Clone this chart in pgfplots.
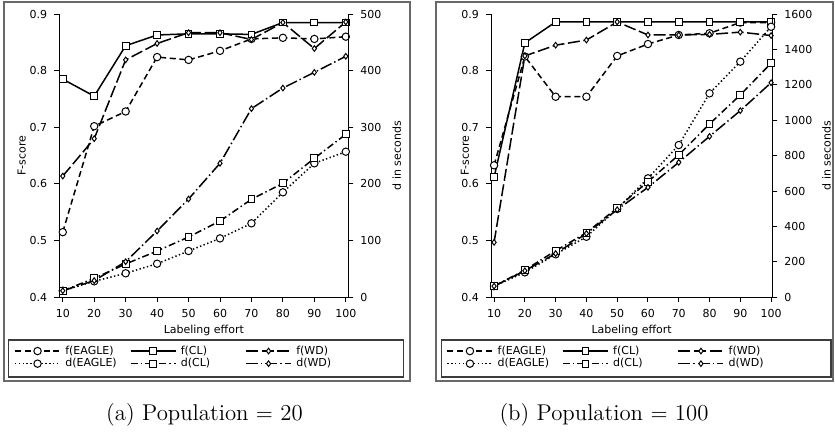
\documentclass[border=0pt]{standalone}
\usepackage{fontspec}
\usepackage{pgfplots}
\pgfplotsset{compat=1.18}
\newfontfamily\dv{DejaVu Sans}
\newcommand\smallfont{\dv\fontsize{5.5}{6.6}\selectfont}
\definecolor{framegray}{RGB}{105,105,105}
\definecolor{boxgray}{RGB}{60,60,60}

\pgfplotsset{
  common/.style={
    scale only axis, anchor=south west, height=141.65pt,
    font=\smallfont, tick label style={font=\smallfont},
    /pgf/number format/assume math mode=true,
    /pgf/number format/1000 sep={},
    tick align=outside, major tick length=2.5pt,
    every tick/.style={black, line width=0.5pt},
    axis line style={-, line width=0.5pt},
    xtick={10,20,30,40,50,60,70,80,90,100}, clip=false,
    every axis plot/.append style={line width=0.75pt, black},
    legend image code/.code={
      \draw[mark repeat=2,mark phase=2] plot coordinates {(0pt,0pt) (11.25pt,0pt) (22.5pt,0pt)};},
  },
  fpanel/.style={common,
    axis x line*=bottom, axis y line*=left,
    ymin=0.4, ymax=0.9, ytick={0.4,0.5,0.6,0.7,0.8,0.9},
    yticklabel style={/pgf/number format/.cd, fixed, fixed zerofill, precision=1},
    xlabel={Labeling effort}, ylabel={F-score},
    every axis x label/.style={at={(axis description cs:0.5,-0.118)}, anchor=center},
  },
  dpanel/.style={common,
    axis x line=none, axis y line*=right, ymin=0,
    ylabel={d in seconds},
    legend columns=3, legend cell align=left,
    legend style={anchor=north west, draw=none, fill=none, inner sep=0pt, outer sep=0pt,
      row sep=0pt, font=\smallfont,
      nodes={inner xsep=0pt, inner ysep=0.6pt, text height=4.2pt, text depth=0.9pt},
      /tikz/every odd column/.append style={column sep=2.25pt}},
  },
  sfE/.style={dash pattern=on 3pt off 1.8pt, mark=*, mark size=1.85pt, mark options={solid, fill=white, line width=0.5pt}},
  sfCL/.style={solid, mark=square*, mark size=1.7pt, mark options={solid, fill=white, line width=0.5pt}},
  sfWD/.style={dash pattern=on 6pt off 1.8pt, mark=diamond*, mark size=1.4pt, mark options={solid, fill=white, line width=0.5pt}},
  sdE/.style={dash pattern=on 0.7pt off 1.2pt, mark=*, mark size=1.85pt, mark options={solid, fill=white, line width=0.5pt}},
  sdCL/.style={dash pattern=on 3.5pt off 1.5pt on 0.7pt off 1.5pt, mark=square*, mark size=1.7pt, mark options={solid, fill=white, line width=0.5pt}},
  sdWD/.style={dash pattern=on 6pt off 1.5pt on 0.7pt off 1.5pt, mark=diamond*, mark size=1.4pt, mark options={solid, fill=white, line width=0.5pt}},
}

\begin{document}
\begin{tikzpicture}
\useasboundingbox (0,0) rectangle (417.5pt,218pt);

% ---------- (a) Population = 20 ----------
\begin{axis}[fpanel, at={(29.65pt,69.35pt)}, width=144.5pt, xmin=8.9, xmax=100.8,
  every axis y label/.style={at={(axis description cs:-0.130,0.5)}, rotate=90, anchor=center}]
\addplot[sfE] coordinates {(10,0.515) (20,0.702) (30,0.728) (40,0.824) (50,0.819) (60,0.835) (70,0.856) (80,0.858) (90,0.856) (100,0.860)};
\addplot[sfCL] coordinates {(10,0.785) (20,0.755) (30,0.844) (40,0.863) (50,0.865) (60,0.865) (70,0.864) (80,0.885) (90,0.885) (100,0.885)};
\addplot[sfWD] coordinates {(10,0.614) (20,0.680) (30,0.819) (40,0.848) (50,0.867) (60,0.867) (70,0.855) (80,0.885) (90,0.839) (100,0.886)};
\end{axis}
\begin{axis}[dpanel, at={(29.65pt,69.35pt)}, width=144.5pt, xmin=8.9, xmax=100.8,
  ymax=500, ytick={0,100,200,300,400,500},
  every axis y label/.style={at={(axis description cs:1.1675,0.5)}, rotate=90, anchor=center},
  legend style={at={(axis description cs:-0.1557,-0.1675)}}]
\addlegendimage{sfE}\addlegendentry{\makebox[32.25pt][l]{f(EAGLE)}}
\addlegendimage{sfCL}\addlegendentry{\makebox[32.25pt][l]{f(CL)}}
\addlegendimage{sfWD}\addlegendentry{\makebox[32pt][l]{f(WD)}}
\addplot[sdE] coordinates {(10,11.6) (20,28.2) (30,42.4) (40,59.3) (50,81.7) (60,104) (70,130.6) (80,185.3) (90,236.5) (100,257)};
\addlegendentry{\makebox[32.25pt][l]{d(EAGLE)}}
\addplot[sdCL] coordinates {(10,11.6) (20,33.5) (30,58.8) (40,81.7) (50,106.4) (60,134.7) (70,173) (80,201.2) (90,245.3) (100,287.7)};
\addlegendentry{\makebox[32.25pt][l]{d(CL)}}
\addplot[sdWD] coordinates {(10,11.6) (20,29.5) (30,62.8) (40,117) (50,173.5) (60,236.5) (70,333) (80,369.4) (90,397) (100,425.4)};
\addlegendentry{\makebox[32pt][l]{d(WD)}}
\end{axis}

% ---------- (b) Population = 100 ----------
\begin{axis}[fpanel, at={(245.5pt,69.35pt)}, width=140.65pt, xmin=9, xmax=100.4,
  every axis y label/.style={at={(axis description cs:-0.0924,0.5)}, rotate=90, anchor=center}]
\addplot[sfE] coordinates {(10,0.633) (20,0.825) (30,0.754) (40,0.754) (50,0.826) (60,0.847) (70,0.863) (80,0.866) (90,0.885) (100,0.885)};
\addplot[sfCL] coordinates {(10,0.612) (20,0.849) (30,0.886) (40,0.886) (50,0.886) (60,0.886) (70,0.886) (80,0.886) (90,0.886) (100,0.886)};
\addplot[sfWD] coordinates {(10,0.497) (20,0.826) (30,0.845) (40,0.854) (50,0.886) (60,0.863) (70,0.863) (80,0.864) (90,0.868) (100,0.862)};
\end{axis}
\begin{axis}[dpanel, at={(245.5pt,69.35pt)}, width=140.65pt, xmin=9, xmax=100.4,
  ymax=1600, ytick={0,200,400,600,800,1000,1200,1400,1600},
  every axis y label/.style={at={(axis description cs:1.193,0.5)}, rotate=90, anchor=center},
  legend style={at={(axis description cs:-0.1575,-0.1675)}}]
\addlegendimage{sfE}\addlegendentry{\makebox[32.25pt][l]{f(EAGLE)}}
\addlegendimage{sfCL}\addlegendentry{\makebox[32.25pt][l]{f(CL)}}
\addlegendimage{sfWD}\addlegendentry{\makebox[32pt][l]{f(WD)}}
\addplot[sdE] coordinates {(10,63) (20,141) (30,243) (40,342) (50,499) (60,672) (70,860) (80,1152) (90,1331) (100,1528)};
\addlegendentry{\makebox[32.25pt][l]{d(EAGLE)}}
\addplot[sdCL] coordinates {(10,63) (20,154) (30,263) (40,365) (50,505) (60,653) (70,804) (80,979) (90,1143) (100,1322)};
\addlegendentry{\makebox[32.25pt][l]{d(CL)}}
\addplot[sdWD] coordinates {(10,63) (20,150) (30,247) (40,360) (50,495) (60,621) (70,762) (80,909) (90,1054) (100,1212)};
\addlegendentry{\makebox[32pt][l]{d(WD)}}
\end{axis}

% frames, legend boxes and captions (pixel units, y downwards)
\begin{scope}[x=0.5pt, y=-0.5pt, shift={(0pt,218pt)}]
\draw[framegray, line width=1pt] (4,2) rectangle (410,381);
\draw[framegray, line width=1pt] (436,2) rectangle (833,381);
\draw[boxgray, line width=0.6pt] (8.3,340) rectangle (403.3,377);
\draw[boxgray, line width=0.6pt] (441.7,340) rectangle (831,377);
\node[font=\fontsize{11.4}{13.7}\selectfont] at (204.5,415) {(a) Population $=$ 20};
\node[font=\fontsize{11.4}{13.7}\selectfont] at (604,415) {(b) Population $=$ 100};
\end{scope}
\end{tikzpicture}
\end{document}
